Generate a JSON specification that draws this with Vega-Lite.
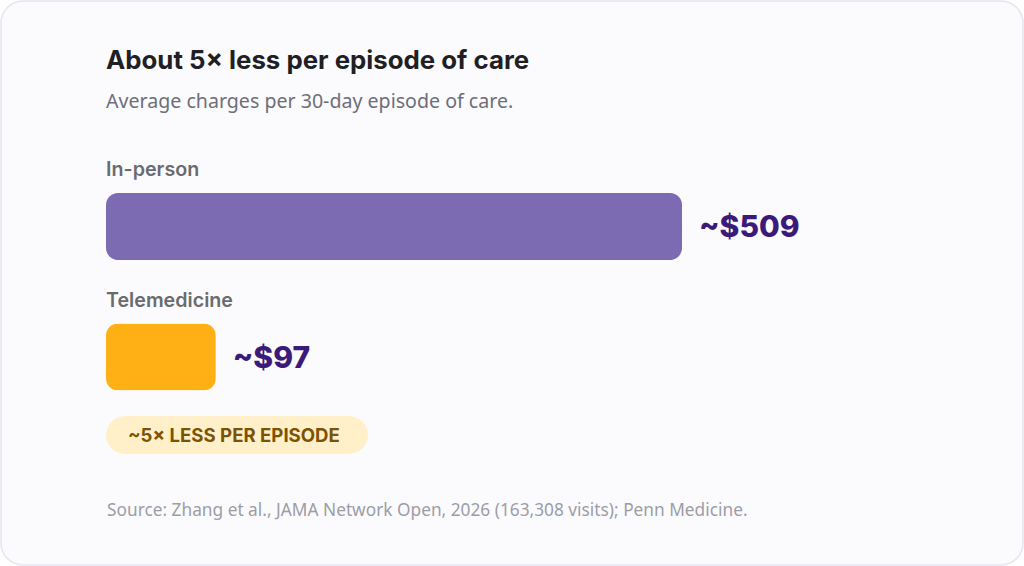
{
  "$schema": "https://vega.github.io/schema/vega-lite/v6.json",
  "width": 1022,
  "height": 564,
  "padding": 1,
  "autosize": {"type": "none"},
  "background": "#ffffff",
  "config": {
    "view": {"fill": "#fbfbfe", "stroke": "#e6e3f1", "strokeWidth": 1.5, "cornerRadius": 22},
    "font": "Inter"
  },
  "title": {
    "text": "About 5× less per episode of care",
    "subtitle": "Average charges per 30-day episode of care.",
    "anchor": "start",
    "frame": "group",
    "orient": "top",
    "offset": 0,
    "dx": 105,
    "dy": 112,
    "font": "Inter",
    "fontSize": 25.8,
    "fontWeight": 700,
    "color": "#1f1f24",
    "subtitleFont": "Noto Sans",
    "subtitleFontSize": 19.6,
    "subtitleColor": "#6e6e78",
    "subtitlePadding": 19
  },
  "datasets": {
    "bars": [
      {"group": "In-person", "charge": 509, "label": "~$509"},
      {"group": "Telemedicine", "charge": 97, "label": "~$97"}
    ],
    "badge": [
      {"group": "Telemedicine", "note": "~5× LESS PER EPISODE"}
    ],
    "source": [
      {"group": "Telemedicine", "note": "Source: Zhang et al., JAMA Network Open, 2026 (163,308 visits); Penn Medicine."}
    ]
  },
  "layer": [
    {
      "data": {"name": "bars"},
      "mark": {"type": "bar", "cornerRadius": 12},
      "encoding": {
        "x": {"field": "charge", "type": "quantitative", "axis": null,
              "scale": {"domain": [-92.79, 810.33], "nice": false, "zero": false}},
        "y": {"field": "group", "type": "nominal", "axis": null,
              "scale": {"domain": ["In-person", "Telemedicine"], "range": [192, 389.5], "paddingInner": 0.4866, "paddingOuter": 0}},
        "color": {"field": "group", "type": "nominal", "legend": null,
                  "scale": {"domain": ["In-person", "Telemedicine"], "range": ["#7c6bb2", "#ffb014"]}}
      }
    },
    {
      "data": {"name": "bars"},
      "mark": {"type": "text", "align": "left", "baseline": "middle", "dy": -56, "fontSize": 19.7, "fontWeight": 600, "color": "#6b6b6e"},
      "encoding": {
        "x": {"datum": 0},
        "y": {"field": "group", "type": "nominal"},
        "text": {"field": "group"}
      }
    },
    {
      "data": {"name": "bars"},
      "mark": {"type": "text", "align": "left", "baseline": "middle", "dx": 17, "dy": 2, "fontSize": 30, "fontWeight": 800, "color": "#3b1a7a"},
      "encoding": {
        "x": {"field": "charge", "type": "quantitative"},
        "y": {"field": "group", "type": "nominal"},
        "text": {"field": "label"}
      }
    },
    {
      "data": {"name": "badge"},
      "mark": {"type": "bar", "height": 38, "cornerRadius": 19, "yOffset": 78, "color": "#fff0c9"},
      "encoding": {
        "x": {"datum": 0},
        "x2": {"datum": 231.5},
        "y": {"field": "group", "type": "nominal"}
      }
    },
    {
      "data": {"name": "badge"},
      "mark": {"type": "text", "align": "left", "baseline": "middle", "dx": 22, "dy": 79, "fontSize": 18.6, "fontWeight": 700, "color": "#7d5205"},
      "encoding": {
        "x": {"datum": 0},
        "y": {"field": "group", "type": "nominal"},
        "text": {"field": "note"}
      }
    },
    {
      "data": {"name": "source"},
      "mark": {"type": "text", "align": "left", "baseline": "middle", "dx": 1, "dy": 154, "font": "Noto Sans", "fontSize": 17.3, "color": "#9d9da6"},
      "encoding": {
        "x": {"datum": 0},
        "y": {"field": "group", "type": "nominal"},
        "text": {"field": "note"}
      }
    }
  ]
}
